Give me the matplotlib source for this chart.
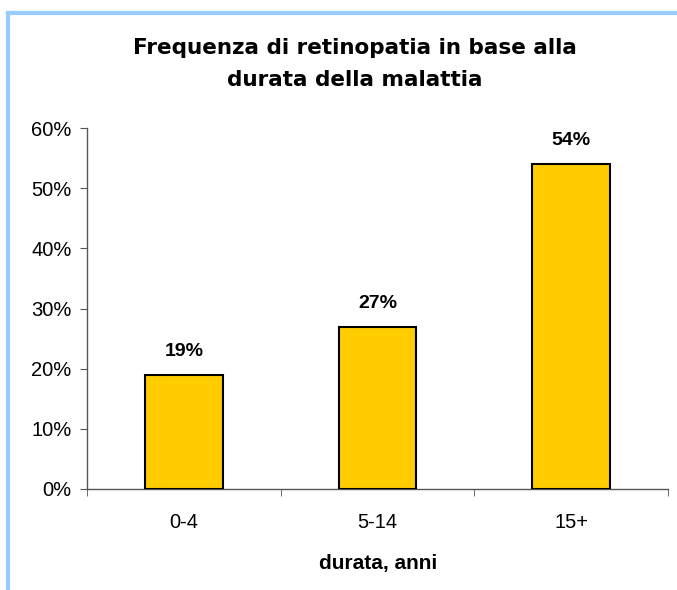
import matplotlib
matplotlib.use("Agg")
import matplotlib.pyplot as plt
from matplotlib.lines import Line2D
from matplotlib.ticker import PercentFormatter, FixedLocator

categories = ["0-4", "5-14", "15+"]
values = [19, 27, 54]
labels = ["19%", "27%", "54%"]

plt.rcParams['font.family'] = ['Liberation Sans', 'DejaVu Sans']

fig = plt.figure(figsize=(6.77, 5.90), dpi=100)
ax = fig.add_axes([87/677, 101/590, (668-87)/677, (489-128)/590])

x = range(len(categories))
ax.bar(x, values, width=0.4, color="#FFCC00", edgecolor="black", linewidth=1.5, zorder=3)
for xi, v, lab in zip(x, values, labels):
    ax.annotate(lab, (xi, v), xytext=(0, 13.5), textcoords="offset points",
                ha="center", va="baseline", fontsize=14, fontweight="bold")

ax.set_xlim(-0.5, 2.5)
ax.set_ylim(0, 60)
ax.set_yticks(range(0, 61, 10))
ax.yaxis.set_major_formatter(PercentFormatter(decimals=0))
ax.set_xticks(list(x))
ax.set_xticklabels(categories)
ax.xaxis.set_minor_locator(FixedLocator([-0.5, 0.5, 1.5, 2.5]))
ax.tick_params(axis="x", which="major", length=0, pad=17, labelsize=14.5)
ax.tick_params(axis="x", which="minor", length=5, direction="out", color="#555555")
ax.tick_params(axis="y", length=5, direction="out", color="#555555", labelsize=14.5, pad=6)
for s in ["top", "right"]:
    ax.spines[s].set_visible(False)
for s in ["left", "bottom"]:
    ax.spines[s].set_color("#555555")
    ax.spines[s].set_linewidth(1)

fig.text(378/677, 1 - 563/590, "durata, anni", ha="center", va="center",
         fontsize=15, fontweight="bold")

fig.text(355/677, 1 - 64/590, "Frequenza di retinopatia in base alla\ndurata della malattia",
         ha="center", va="center", fontsize=15.5, fontweight="bold", linespacing=1.8,
         family="DejaVu Sans")

# light blue frame (top and left)
fig.add_artist(Line2D([8/677, 1], [1 - 13/590, 1 - 13/590], transform=fig.transFigure,
                      color="#99CCFF", linewidth=3))
fig.add_artist(Line2D([8/677, 8/677], [0, 1 - 13/590], transform=fig.transFigure,
                      color="#99CCFF", linewidth=3))

fig.savefig("out.png", dpi=100)
